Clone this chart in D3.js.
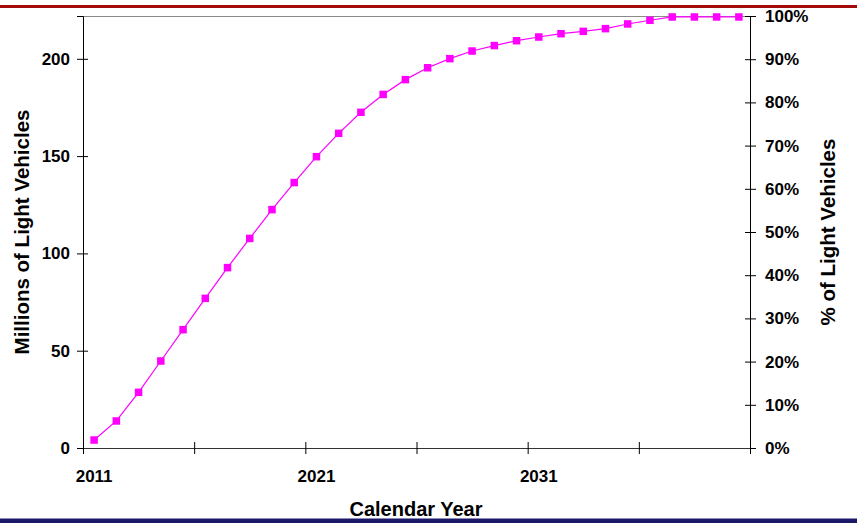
<!DOCTYPE html>
<html>
<head>
<meta charset="utf-8">
<script src="https://cdn.jsdelivr.net/npm/d3@7"></script>
<style>
  body { margin: 0; background: #fff; }
  svg { display: block; font-family: "Liberation Sans", Arial, sans-serif; font-weight: bold; }
</style>
</head>
<body>
<div class="chart"></div>
<script>
// Years on the category axis
const years = d3.range(2011, 2041).map(String);

// Millions of light vehicles
const vehicles = [
  4.1, 13.9, 28.6, 44.7, 60.8, 76.9, 92.7, 107.7, 122.5, 136.4,
  149.7, 161.7, 172.5, 181.7, 189.3, 195.4, 200.1, 204.0, 206.8, 209.3,
  211.2, 212.9, 214.1, 215.5, 217.9, 219.8, 221.5, 221.5, 221.5, 221.5
];

const leftTicks = [0, 50, 100, 150, 200];
const rightTicks = d3.range(0, 1.01, 0.1);
const yearLabels = ["2011", "2021", "2031"];

const W = 857, H = 523;
const margin = {top: 16, right: 107, bottom: 75, left: 83};
const width = W - margin.left - margin.right;
const height = H - margin.top - margin.bottom;

const svg = d3.select(".chart")
  .append("svg")
  .attr("width", W)
  .attr("height", H);

// slide decoration bars
svg.append("rect").attr("x", 0).attr("y", 5).attr("width", W).attr("height", 3).attr("fill", "#a30a0a");
svg.append("rect").attr("x", 0).attr("y", 518).attr("width", W).attr("height", 1).attr("fill", "#8c8ab8");
svg.append("rect").attr("x", 0).attr("y", 519).attr("width", W).attr("height", 4).attr("fill", "#1c1868");

const g = svg.append("g")
  .attr("transform", `translate(${margin.left}, ${margin.top})`);

const x = d3.scaleBand()
  .domain(years)
  .range([0, width])
  .padding(0);

const xEdge = d3.scaleLinear()
  .domain([0, years.length])
  .range([0, width]);

const y = d3.scaleLinear()
  .domain([0, 222])
  .range([height, 0]);

const yPct = d3.scaleLinear()
  .domain([0, 1])
  .range([height, 0]);

// top border of the plot
g.append("line")
  .attr("x1", 0).attr("x2", width)
  .attr("y1", 0.5).attr("y2", 0.5)
  .attr("stroke", "#8a8a8a");

// Left axis
const yAxis = g.append("g")
  .attr("class", "y-axis")
  .call(d3.axisLeft(y).tickValues(leftTicks).tickSize(6).tickPadding(7));
yAxis.selectAll(".tick line").attr("x1", 5);

// Right axis
const yAxisR = g.append("g")
  .attr("class", "y-axis-r")
  .attr("transform", `translate(${width}, 0)`)
  .call(d3.axisRight(yPct).tickValues(rightTicks).tickFormat(d3.format(".0%")).tickSize(6).tickPadding(9));
yAxisR.selectAll(".tick line").attr("x1", -5);

// Bottom axis: tick marks at every fifth band edge
const xTicks = g.append("g")
  .attr("class", "x-ticks")
  .attr("transform", `translate(0, ${height})`)
  .call(d3.axisBottom(xEdge).tickValues(d3.range(0, years.length + 1, 5)).tickSize(6).tickFormat(""));
xTicks.selectAll(".tick line").attr("y1", -6);
xTicks.select(".domain").attr("stroke", "#333");

// Bottom labels at band centres
const xLabels = g.append("g")
  .attr("class", "x-labels")
  .attr("transform", `translate(0, ${height})`)
  .call(d3.axisBottom(x).tickValues(yearLabels).tickSize(0).tickPadding(22));
xLabels.select(".domain").remove();

svg.selectAll(".tick text")
  .style("font-size", "17px")
  .style("font-weight", "bold")
  .style("font-family", "'Liberation Sans', Arial, sans-serif")
  .attr("fill", "#000");
svg.selectAll(".tick line, .y-axis .domain, .y-axis-r .domain").attr("stroke", "#000");

// Line and markers
const line = d3.line()
  .x((d, i) => x(years[i]) + x.bandwidth() / 2)
  .y(d => y(d));

g.append("path")
  .datum(vehicles)
  .attr("d", line)
  .attr("fill", "none")
  .attr("stroke", "#ff00ff")
  .attr("stroke-width", 1.2);

g.selectAll("rect.marker")
  .data(vehicles)
  .enter()
  .append("rect")
  .attr("class", "marker")
  .attr("x", (d, i) => x(years[i]) + x.bandwidth() / 2 - 3.75)
  .attr("y", d => y(d) - 3.75)
  .attr("width", 7.5)
  .attr("height", 7.5)
  .attr("fill", "#ff00ff");

// Axis titles
svg.append("text")
  .attr("transform", `translate(29, ${margin.top + height / 2}) rotate(-90)`)
  .attr("text-anchor", "middle")
  .style("font-size", "20.5px")
  .text("Millions of Light Vehicles");

svg.append("text")
  .attr("transform", `translate(835, ${margin.top + height / 2}) rotate(-90)`)
  .attr("text-anchor", "middle")
  .style("font-size", "20.5px")
  .text("% of Light Vehicles");

svg.append("text")
  .attr("x", 416)
  .attr("y", 516)
  .attr("text-anchor", "middle")
  .style("font-size", "20px")
  .text("Calendar Year");
</script>
</body>
</html>
